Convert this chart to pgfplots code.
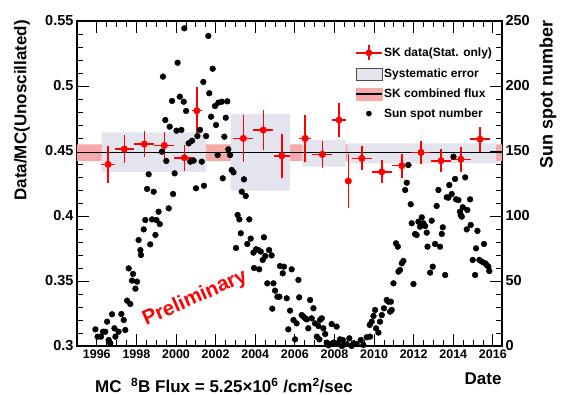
\documentclass[border=0pt]{standalone}
\usepackage{pgfplots}
\pgfplotsset{compat=1.18}
\usepackage{pgfplotstable}
\usepackage{fontspec}
\setmainfont{Liberation Sans}
\definecolor{sysgray}{RGB}{228,228,238}
\definecolor{bandred}{RGB}{247,168,168}
\definecolor{skred}{RGB}{255,0,0}

\pgfplotstableread{
x y ex ey
1996.57 0.4397 0.34 0.0145
1997.39 0.4515 0.49 0.0110
1998.40 0.4553 0.50 0.0099
1999.41 0.4543 0.50 0.0104
2000.42 0.4448 0.50 0.0101
2001.05 0.4810 0.25 0.0185
2003.40 0.4597 0.50 0.0180
2004.41 0.4661 0.50 0.0154
2005.34 0.4463 0.40 0.0169
2006.52 0.4597 0.30 0.0180
2007.39 0.4474 0.50 0.0102
2008.23 0.4738 0.34 0.0128
2008.70 0.4269 0.15 0.0210
2009.38 0.4443 0.50 0.0092
2010.39 0.4340 0.50 0.0087
2011.40 0.4387 0.50 0.0093
2012.37 0.4489 0.50 0.0090
2013.38 0.4425 0.50 0.0090
2014.38 0.4436 0.50 0.0094
2015.35 0.4590 0.50 0.0094
}\skdata

\pgfplotstableread{
x s
1995.93 12.8
1996.04 7.2
1996.21 7.2
1996.31 11.0
1996.43 11.0
1996.52 18.7
1996.60 4.6
1996.68 2.1
1996.77 24.4
1996.89 13.6
1996.94 7.2
1997.10 11.0
1997.24 24.6
1997.36 20.0
1997.44 12.3
1997.53 34.9
1997.61 59.7
1997.69 32.3
1997.78 50.3
1997.83 55.4
1997.95 44.1
1998.03 49.5
1998.11 81.5
1998.20 73.8
1998.23 70.0
1998.37 89.7
1998.45 96.9
1998.54 120.8
1998.62 132.1
1998.70 78.2
1998.79 97.4
1998.87 118.7
1998.96 85.4
1999.01 96.9
1999.12 103.3
1999.18 93.8
1999.29 149.5
1999.34 207.2
1999.46 173.8
1999.51 142.3
1999.63 105.9
1999.68 168.7
1999.80 188.5
1999.85 116.9
1999.93 132.8
2000.02 165.6
2000.08 217.9
2000.19 191.8
2000.27 166.2
2000.39 187.9
2000.42 244.4
2000.51 180.8
2000.64 155.9
2000.72 141.8
2000.81 157.9
2000.89 142.6
2001.01 121.3
2001.08 161.5
2001.21 166.2
2001.30 141.8
2001.38 203.1
2001.41 123.3
2001.52 161.5
2001.63 238.5
2001.68 194.4
2001.77 176.4
2001.85 213.3
2001.97 184.6
2002.02 170.0
2002.10 146.9
2002.14 187.2
2002.31 187.9
2002.36 129.0
2002.44 161.0
2002.51 175.6
2002.59 188.2
2002.64 151.3
2002.73 146.9
2002.81 135.4
2002.90 133.6
2003.03 75.4
2003.11 100.8
2003.20 97.4
2003.27 86.7
2003.32 118.7
2003.43 128.2
2003.52 115.4
2003.60 78.5
2003.70 97.4
2003.77 82.6
2003.91 71.8
2003.94 60.0
2004.04 74.4
2004.16 73.8
2004.20 59.0
2004.28 72.6
2004.38 66.2
2004.44 83.6
2004.51 69.2
2004.61 48.2
2004.70 73.8
2004.83 69.7
2004.86 28.7
2004.92 48.2
2005.00 42.6
2005.12 37.9
2005.22 37.9
2005.25 61.5
2005.39 55.9
2005.45 61.0
2005.59 36.7
2005.67 12.8
2005.76 27.2
2005.84 59.0
2005.93 20.0
2006.01 5.1
2006.09 17.4
2006.18 50.8
2006.22 37.4
2006.35 23.8
2006.43 22.6
2006.52 21.3
2006.60 20.5
2006.68 13.6
2006.77 35.4
2006.85 21.3
2006.94 29.0
2007.02 17.4
2007.11 7.2
2007.19 15.4
2007.24 5.1
2007.27 20.0
2007.36 21.3
2007.44 13.6
2007.53 9.2
2007.61 2.6
2007.70 0.5
2007.78 1.5
2007.86 16.9
2007.95 2.6
2008.11 14.9
2008.15 2.1
2008.28 5.1
2008.37 0.0
2008.42 4.6
2008.45 0.8
2008.62 1.5
2008.75 5.9
2008.87 0.0
2008.96 2.1
2009.12 1.5
2009.33 4.6
2009.46 0.8
2009.63 6.7
2009.78 16.2
2009.80 7.2
2009.88 18.7
2009.97 23.1
2010.05 27.7
2010.10 13.6
2010.22 10.3
2010.30 18.7
2010.39 23.8
2010.50 29.0
2010.64 35.4
2010.72 34.1
2010.81 26.4
2010.85 34.1
2010.89 27.7
2010.98 48.2
2011.11 79.0
2011.20 76.4
2011.23 57.2
2011.31 58.5
2011.40 63.6
2011.48 65.4
2011.57 120.0
2011.65 125.6
2011.73 139.2
2011.85 109.0
2011.90 94.4
2011.99 47.7
2012.07 86.2
2012.15 85.4
2012.24 95.6
2012.32 91.8
2012.41 99.0
2012.45 93.8
2012.49 94.4
2012.58 92.3
2012.66 87.2
2012.70 76.4
2012.83 56.4
2012.91 96.4
2012.96 61.0
2013.08 78.5
2013.16 107.7
2013.25 120.0
2013.33 76.4
2013.42 86.2
2013.47 91.3
2013.59 54.6
2013.67 114.4
2013.75 114.1
2013.80 123.8
2013.92 116.9
2014.01 145.6
2014.09 128.5
2014.14 112.8
2014.26 112.3
2014.34 103.3
2014.38 100.8
2014.43 99.5
2014.48 106.7
2014.60 129.7
2014.68 89.7
2014.71 104.6
2014.85 112.8
2014.88 93.1
2014.98 66.2
2015.10 54.6
2015.15 75.1
2015.22 88.5
2015.32 66.2
2015.44 64.9
2015.55 78.5
2015.61 63.6
2015.69 62.3
2015.77 61.0
2015.82 57.7
}\sunspot

\newcommand{\tickfont}{\bfseries\fontsize{14.5}{16}\selectfont}
\newcommand{\xtickfont}{\bfseries\fontsize{12.5}{14}\selectfont}
\newcommand{\labfont}{\bfseries\fontsize{17}{20}\selectfont}

\begin{document}
\begin{tikzpicture}
\path[use as bounding box] (-77pt,-49pt) rectangle (486pt,346pt);
\begin{axis}[
  scale only axis, width=425pt, height=325pt,
  at={(0pt,0pt)}, anchor=south west,
  xmin=1995, xmax=2016.46, ymin=0.3, ymax=0.55,
  xtick={1996,1998,2000,2002,2004,2006,2008,2010,2012,2014,2016},
  minor x tick num=3,
  ytick={0.3,0.35,0.4,0.45,0.5,0.55},
  yticklabels={0.3,0.35,0.4,0.45,0.5,0.55},
  minor y tick num=4,
  xtick pos=both, ytick pos=left, xticklabel pos=lower,
  tick align=inside,
  major tick length=12pt, minor tick length=6pt,
  every tick/.style={black, line width=0.8pt},
  axis line style={line width=1.2pt},
  /pgf/number format/assume math mode=true,
  /pgf/number format/1000 sep={},
  xticklabel style={font=\xtickfont},
  yticklabel style={font=\tickfont},
  legend style={at={(0.654,0.928)}, anchor=north west, draw=none, fill=none,
    font=\bfseries\fontsize{12}{14}\selectfont, row sep=6.5pt, inner sep=0pt,
    nodes={inner sep=1.5pt}},
  legend cell align=left,
]
\addplot[fill=bandred, draw=none, forget plot] coordinates {(1995,0.4423) (2016.46,0.4423) (2016.46,0.4551) (1995,0.4551) (1995,0.4423)};
\addplot[fill=sysgray, draw=none, forget plot] coordinates {(1996.24,0.4340) (2001.51,0.4340) (2001.51,0.4643) (1996.24,0.4643) (1996.24,0.4340)};
\addplot[fill=sysgray, draw=none, forget plot] coordinates {(2002.76,0.4195) (2005.76,0.4195) (2005.76,0.4785) (2002.76,0.4785) (2002.76,0.4195)};
\addplot[fill=sysgray, draw=none, forget plot] coordinates {(2006.38,0.4380) (2008.57,0.4380) (2008.57,0.4585) (2006.38,0.4585) (2006.38,0.4380)};
\addplot[fill=sysgray, draw=none, forget plot] coordinates {(2008.65,0.4405) (2016.16,0.4405) (2016.16,0.4559) (2008.65,0.4559) (2008.65,0.4405)};
\addplot[black, line width=1.5pt, forget plot] coordinates {(1995,0.4487) (2016.46,0.4487)};
\addplot[skred, only marks, mark=*, mark size=3.3pt, forget plot,
  error bars/.cd, x dir=both, x explicit, y dir=both, y explicit,
  error bar style={line width=1.6pt, skred}, error mark=none]
  table[x=x, y=y, x error=ex, y error=ey] {\skdata};
\node[rotate=24, text=skred, font=\bfseries\fontsize{20.5}{23}\selectfont] at (axis cs:2000.96,0.3367) {Preliminary};
\addlegendimage{legend image code/.code={
  \draw[skred, line width=1.5pt] (0pt,0pt) -- (26pt,0pt);
  \draw[skred, line width=1.5pt] (13pt,-7.5pt) -- (13pt,7.5pt);
  \fill[skred] (13pt,0pt) circle (3.2pt);}}
\addlegendentry{SK data(Stat. only)}
\addlegendimage{legend image code/.code={
  \draw[fill=sysgray, draw=black!70, line width=0.8pt] (0pt,-6pt) rectangle (26pt,6pt);}}
\addlegendentry{Systematic error}
\addlegendimage{legend image code/.code={
  \fill[bandred] (0pt,-6pt) rectangle (26pt,6pt);
  \draw[black, line width=1.5pt] (0pt,0pt) -- (26pt,0pt);}}
\addlegendentry{SK combined flux}
\addlegendimage{legend image code/.code={
  \fill[black] (13pt,0pt) circle (2.6pt);}}
\addlegendentry{Sun spot number}
\end{axis}
\begin{axis}[
  scale only axis, width=425pt, height=325pt,
  at={(0pt,0pt)}, anchor=south west,
  xmin=1995, xmax=2016.46, ymin=0, ymax=250,
  hide x axis,
  axis line style={draw=none},
  ytick={0,50,100,150,200,250},
  minor y tick num=4,
  ytick pos=right, yticklabel pos=right,
  tick align=inside,
  major tick length=12pt, minor tick length=6pt,
  every tick/.style={black, line width=0.8pt},
  /pgf/number format/assume math mode=true,
  yticklabel style={font=\tickfont},
]
\addplot[only marks, mark=*, mark size=2.9pt, black] table[x=x, y=s] {\sunspot};
\end{axis}
\node[rotate=90, anchor=east, inner sep=0pt, font=\labfont] at (-55pt,326pt) {Data/MC(Unoscillated)};
\node[rotate=90, anchor=east, inner sep=0pt, font=\bfseries\fontsize{18}{20}\selectfont] at (471pt,326pt) {Sun spot number};
\node[anchor=base east, inner sep=0pt, font=\labfont] at (424.7pt,-39pt) {Date};
\node[anchor=base west, inner sep=0pt, font=\labfont] at (18pt,-46.7pt) {MC\ \ \textsuperscript{8}B Flux = 5.25×10\textsuperscript{6} /cm\textsuperscript{2}/sec};
\end{tikzpicture}
\end{document}
